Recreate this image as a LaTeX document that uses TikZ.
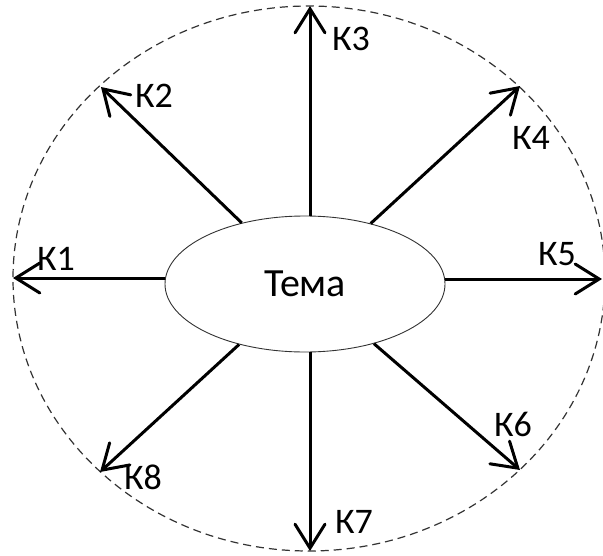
\documentclass[tikz,border=0pt]{standalone}
\usepackage{fontspec}
\setmainfont{Carlito}
\usetikzlibrary{arrows.meta}
\usetikzlibrary{shapes.geometric}

\begin{document}
\begin{tikzpicture}[x=1pt,y=-1pt,
	tnode/.style={ellipse,draw=black!80,line width=0.9pt,minimum width=280pt,minimum height=136pt,inner sep=0pt,font=\fontsize{40}{44}\selectfont},
	ray/.style={line width=3pt,-{Straight Barb[length=24pt,width=30pt,line cap=round]}},
	klab/.style={inner sep=0pt,font=\fontsize{36}{40}\selectfont}]
	\useasboundingbox (0,0) rectangle (603,555);
	\draw[black!80,line width=1.2pt,dash pattern=on 8pt off 5pt] (309,278.5) ellipse [x radius=296pt,y radius=272.5pt];
	\node[tnode] (tema) at (305,284) {Тема};
	% ray ends on the dashed rim
	\coordinate (k1) at (13,278);
	\coordinate (k2) at (101,87);
	\coordinate (k3) at (310,6);
	\coordinate (k4) at (520,86);
	\coordinate (k5) at (602,279);
	\coordinate (k6) at (520,470);
	\coordinate (k7) at (310,551);
	\coordinate (k8) at (100,472);
	\draw[ray] (tema.west |- k1) -- (k1);
	\draw[ray] (tema) -- (k2);
	\draw[ray] (tema.north -| k3) -- (k3);
	\draw[ray] (tema) -- (k4);
	\draw[ray] (tema.east |- k5) -- (k5);
	\draw[ray] (tema) -- (k6);
	\draw[ray] (tema.south -| k7) -- (k7);
	\draw[ray] (tema) -- (k8);
	\node[klab] (l1) at (56,259) {К1};
	\node[klab] (l2) at (154,96) {К2};
	\node[klab] (l3) at (351,39) {К3};
	\node[klab] (l4) at (531,138) {К4};
	\node[klab] (l5) at (557,254) {К5};
	\node[klab] (l6) at (513,424) {К6};
	\node[klab] (l7) at (354,522) {К7};
	\node[klab] (l8) at (143,477) {К8};
\end{tikzpicture}
\end{document}
